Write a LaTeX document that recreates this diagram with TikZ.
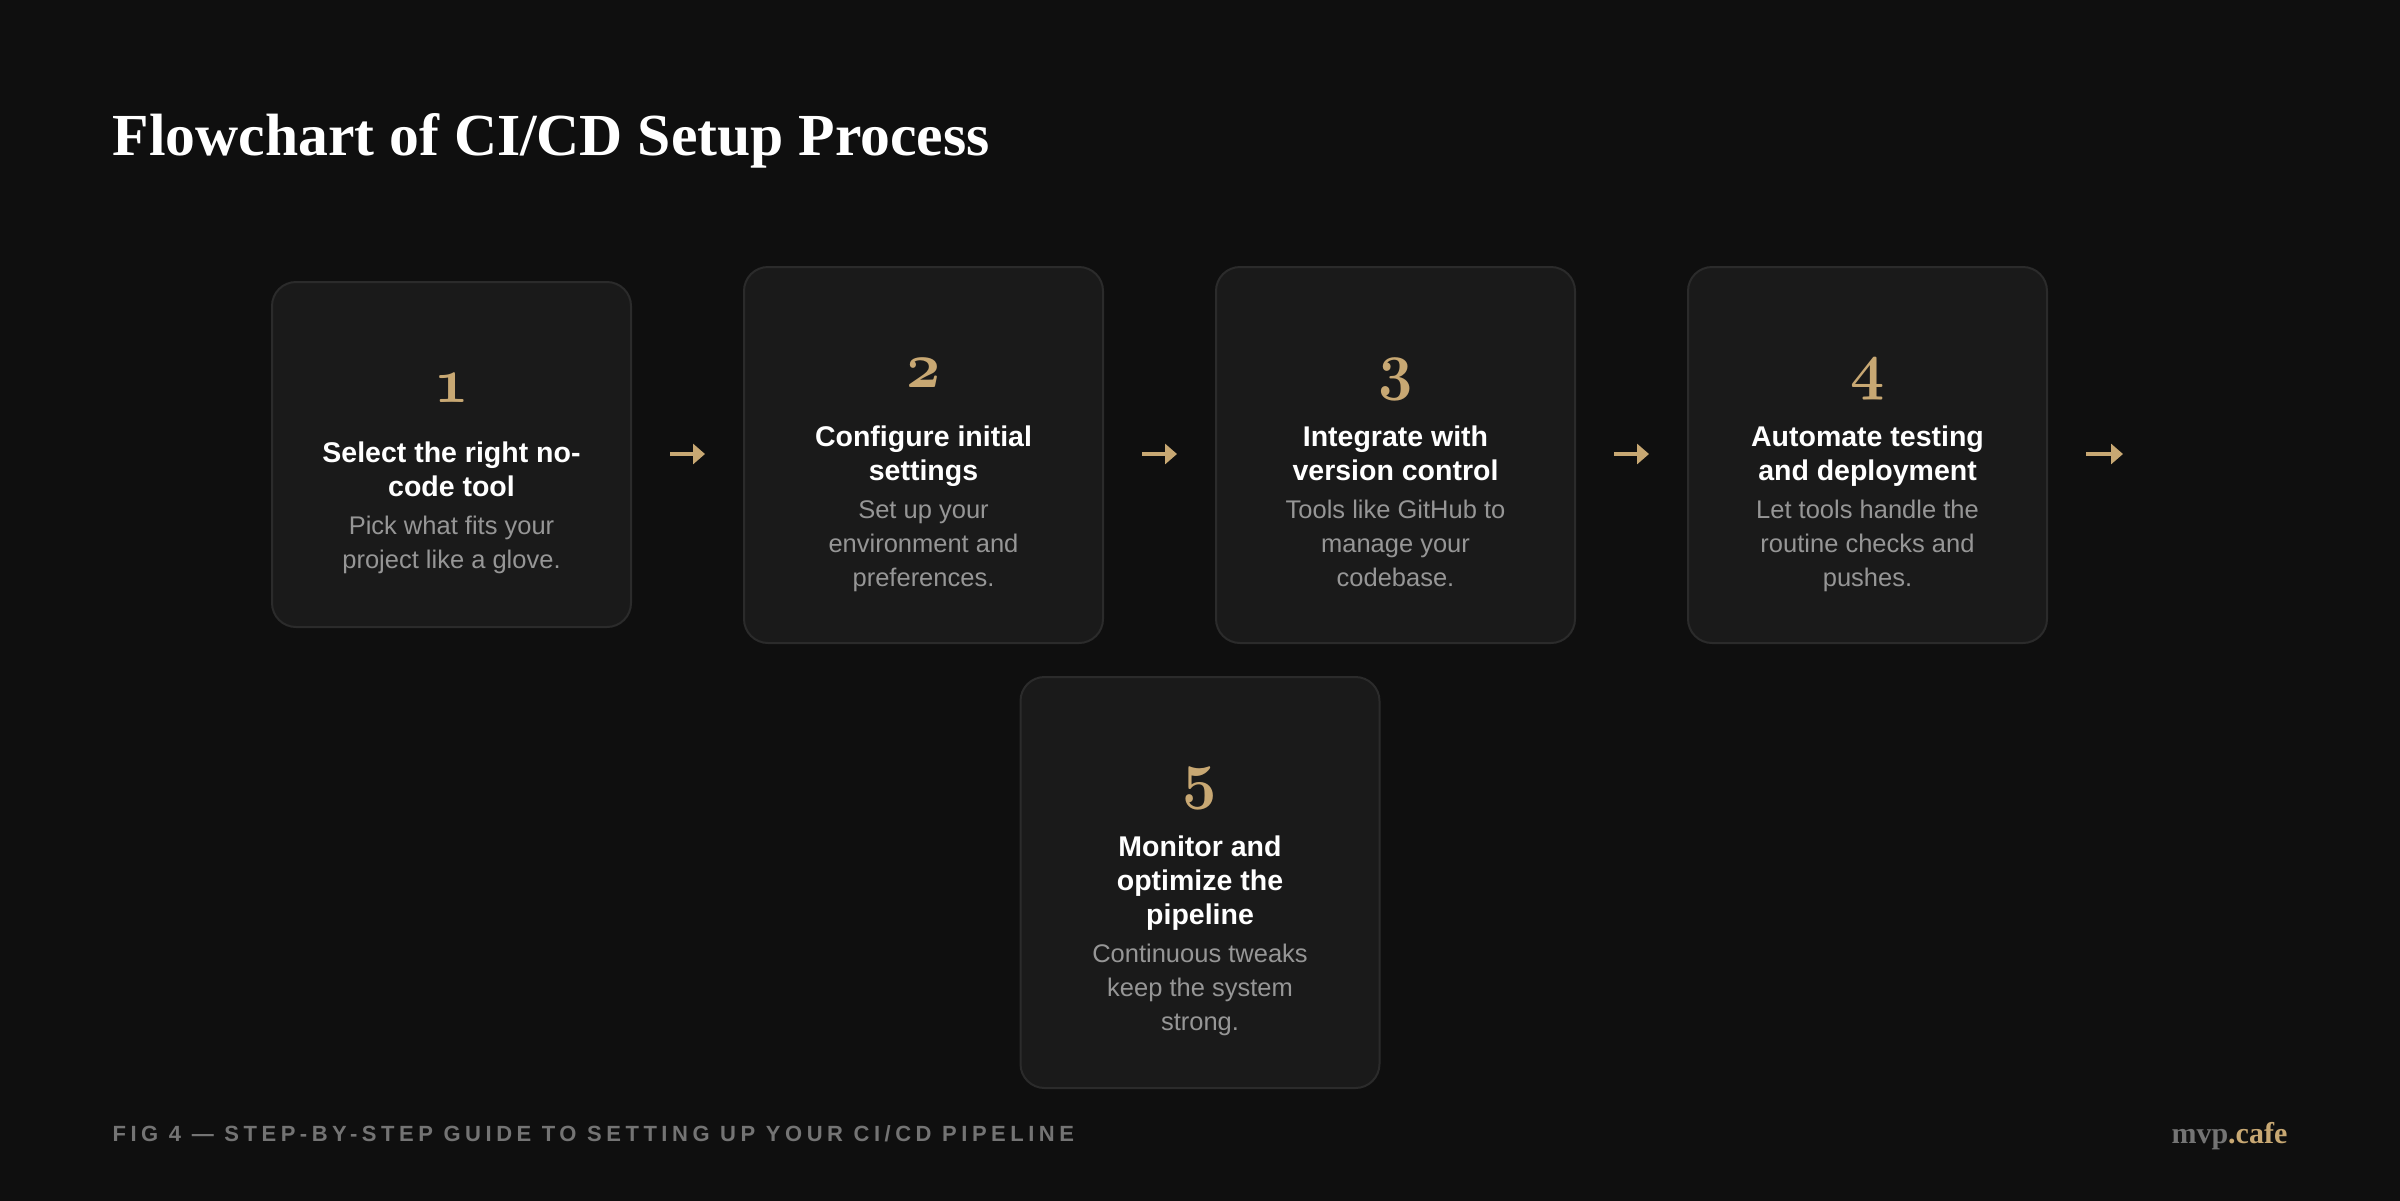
\documentclass[tikz,border=0pt]{standalone}
\usepackage{fontspec}
\usepackage{graphicx}
\setmainfont{Liberation Sans}
\newfontfamily\headfont{Liberation Serif}
\newfontfamily\footfont{Liberation Sans}[LetterSpace=20.5]
\usetikzlibrary{arrows.meta}
\definecolor{bgc}{HTML}{0F0F0F}
\definecolor{boxfill}{HTML}{1A1A1A}
\definecolor{boxline}{HTML}{2B2B2B}
\definecolor{gold}{HTML}{C8A873}
\definecolor{descc}{HTML}{969696}
\definecolor{footc}{HTML}{747474}
\newcommand\numfnt{\fontsize{24.88pt}{26pt}\usefont{OML}{cmm}{b}{it}}
\newcommand\numglyph[1]{\scalebox{0.72}[0.78]{#1}}
\newcommand\lines[1]{\begin{tabular}[t]{@{}c@{}}#1\end{tabular}}
\tikzset{
  stepbox/.style={draw=boxline, line width=0.6pt, fill=boxfill, rounded corners=7.2pt, inner sep=0pt, minimum width=107.7pt},
  numtext/.style={anchor=base, inner sep=0pt, text=gold, font=\numfnt},
  ttltext/.style={anchor=base, inner sep=0pt, text=white, font=\bfseries\fontsize{8.55pt}{10.2pt}\selectfont},
  dsctext/.style={anchor=base, inner sep=0pt, text=descc, font=\fontsize{7.65pt}{10.2pt}\selectfont},
  flow/.style={draw=gold, line width=1.2pt, shorten <=11.4pt, shorten >=11.4pt, -{Triangle[length=3.6pt, width=6pt]}},
}
\begin{document}
\begin{tikzpicture}[x=0.3pt, y=-0.3pt]
\useasboundingbox (0,0) rectangle (2400,1200);
\fill[bgc] (-20,-20) rectangle (2420,1220);

% title
\node[anchor=base west, inner sep=0pt, text=white, font=\headfont\bfseries\fontsize{17.9pt}{22pt}\selectfont] (title) at (112,155) {Flowchart of CI/CD Setup Process};

% boxes
\node[stepbox, minimum height=103.5pt] (b1) at (451.5,454.5) {};
\node[stepbox, minimum height=112.8pt] (b2) at (923.5,455) {};
\node[stepbox, minimum height=112.8pt] (b3) at (1395.5,455) {};
\node[stepbox, minimum height=112.8pt] (b4) at (1867.5,455) {};
\node[stepbox, minimum height=123.3pt] (b5) at (1200,882.5) {};

% box 1
\node[numtext] (n1) at (451.5,402.5) {\numglyph{1}};
\node[ttltext] (t1) at (451.5,462.5) {\lines{Select the right no-\\code tool}};
\node[dsctext] (d1) at (451.5,534.5) {\lines{Pick what fits your\\project like a glove.}};
% box 2
\node[numtext] (n2) at (923.5,387) {\numglyph{2}};
\node[ttltext] (t2) at (923.5,446) {\lines{Configure initial\\settings}};
\node[dsctext] (d2) at (923.5,518) {\lines{Set up your\\environment and\\preferences.}};
% box 3
\node[numtext] (n3) at (1395.5,387) {\numglyph{3}};
\node[ttltext] (t3) at (1395.5,446) {\lines{Integrate with\\version control}};
\node[dsctext] (d3) at (1395.5,518) {\lines{Tools like GitHub to\\manage your\\codebase.}};
% box 4
\node[numtext] (n4) at (1867.5,387) {\numglyph{4}};
\node[ttltext] (t4) at (1867.5,446) {\lines{Automate testing\\and deployment}};
\node[dsctext] (d4) at (1867.5,518) {\lines{Let tools handle the\\routine checks and\\pushes.}};
% box 5
\node[numtext] (n5) at (1200,796.5) {\numglyph{5}};
\node[ttltext] (t5) at (1200,856.5) {\lines{Monitor and\\optimize the\\pipeline}};
\node[dsctext] (d5) at (1200,962.5) {\lines{Continuous tweaks\\keep the system\\strong.}};

% arrows
\coordinate (tail) at (2161,454);
\draw[flow] (b1.east |- 0,454) -- (b2.west |- 0,454);
\draw[flow] (b2.east |- 0,454) -- (b3.west |- 0,454);
\draw[flow] (b3.east |- 0,454) -- (b4.west |- 0,454);
\draw[flow] (b4.east |- 0,454) -- (tail);

% footer
\node[anchor=base west, inner sep=0pt, text=footc, font=\footfont\bfseries\fontsize{6.6pt}{8pt}\selectfont] (cap) at (112,1141) {FIG 4 — STEP-BY-STEP GUIDE TO SETTING UP YOUR CI/CD PIPELINE};
\node[anchor=base east, inner sep=0pt, font=\headfont\bfseries\fontsize{9pt}{11pt}\selectfont] (logo) at (2288,1143) {\textcolor{footc}{mvp}\textcolor{gold}{.cafe}};
\end{tikzpicture}
\end{document}
